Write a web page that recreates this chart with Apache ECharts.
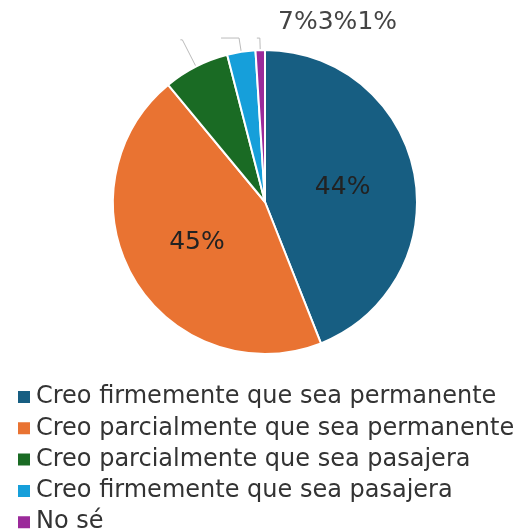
<!DOCTYPE html>
<html>
<head>
<meta charset="utf-8">
<script src="https://cdn.jsdelivr.net/npm/echarts@6/dist/echarts.min.js"></script>
<style>
  html, body { margin: 0; padding: 0; background: #fff; }
  #chart { width: 517px; height: 531px; }
</style>
</head>
<body>
<div id="chart"></div>
<script>
// datos de la encuesta
const categories = [
  'Creo firmemente que sea permanente',
  'Creo parcialmente que sea permanente',
  'Creo parcialmente que sea pasajera',
  'Creo firmemente que sea pasajera',
  'No sé'
]
const values = [44, 45, 7, 3, 1]
const colors = ['#175e82', '#e97332', '#1a6b24', '#169fda', '#9b2a9a']

const FONT = 'DejaVu Sans'
const smallIdx = [2, 3, 4]
// largo de las lineas guia de las porciones chicas [length, length2]
const leaderLen = { 2: [30, 2], 3: [14, 18], 4: [12, 3] }

const chart = echarts.init(document.getElementById('chart'))

const pieData = categories.map((name, i) => {
  const item = { name, value: values[i], itemStyle: { color: colors[i] } }
  if (leaderLen[i]) {
    item.label = { position: 'outside' }
    item.labelLine = { show: true, length: leaderLen[i][0], length2: leaderLen[i][1] }
  } else {
    item.label = { position: 'inside' }
  }
  return item
})

const base = {
  type: 'pie',
  center: [265, 202],
  radius: 152,
  startAngle: 90,
  clockwise: true,
  avoidLabelOverlap: false,
  animation: false
}

const opt = {
  backgroundColor: '#fff',
  legend: {
    orient: 'vertical',
    left: 16,
    top: 385,
    height: 200,
    padding: 0,
    icon: 'rect',
    itemWidth: 14,
    itemHeight: 14,
    itemGap: 7.3,
    data: categories,
    textStyle: { fontFamily: FONT, fontSize: 24, color: '#333', lineHeight: 24 }
  },
  series: [
    {
      ...base,
      itemStyle: { borderColor: '#fff', borderWidth: 2 },
      data: pieData,
      label: {
        show: true,
        fontFamily: FONT,
        fontSize: 25,
        color: '#222',
        formatter: p => smallIdx.includes(p.dataIndex) ? ' ' : Math.round(p.percent) + '%'
      },
      labelLine: { show: true, lineStyle: { color: '#bbb', width: 1 } }
    },
    {
      ...base,
      silent: true,
      itemStyle: { color: 'rgba(0,0,0,0)', borderWidth: 0 },
      data: categories.map((name, i) => ({ name, value: values[i] })),
      label: {
        show: true,
        position: 'outside',
        fontFamily: FONT,
        fontSize: 25,
        color: '#444',
        formatter: p => smallIdx.includes(p.dataIndex) ? Math.round(p.percent) + '%' : ''
      },
      labelLine: { show: false },
      labelLayout: p => {
        const k = smallIdx.indexOf(p.dataIndex)
        if (k < 0) return {}
        return { x: 278 + k * 39.7, y: 22, align: 'left', verticalAlign: 'middle' }
      }
    }
  ]
}

chart.setOption(opt)
</script>
</body>
</html>
